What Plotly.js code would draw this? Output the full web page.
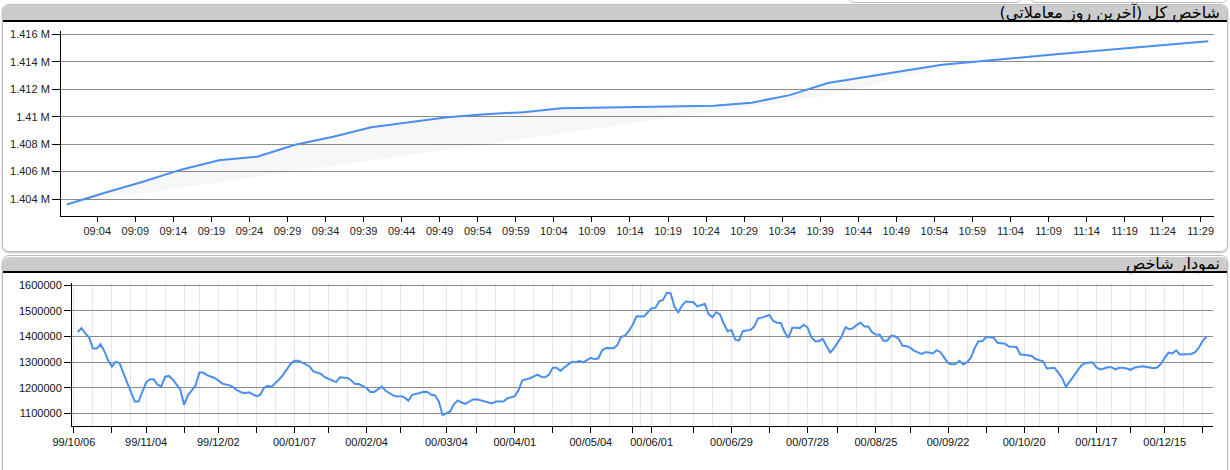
<!DOCTYPE html>
<html>
<head>
<meta charset="utf-8">
<script src="https://cdn.plot.ly/plotly-3.0.1.min.js"></script>
<style>
html,body{margin:0;padding:0;background:#fff;}
body{position:relative;width:1230px;height:470px;overflow:hidden;font-family:"DejaVu Sans",sans-serif;}
.panel{position:absolute;left:2px;width:1224px;border:1px solid #bdbdbd;border-radius:7px;background:#fff;box-shadow:0 1px 2px rgba(0,0,0,0.25);}
.head{position:absolute;left:0;right:0;top:0;background:#cccccc;border-bottom:2px solid #000;border-radius:6px 6px 0 0;}
.title{position:absolute;right:7px;white-space:nowrap;direction:rtl;color:#000;font-size:16px;line-height:16px;}
.chart{position:absolute;left:0;width:1230px;}
.tab{position:absolute;top:-20px;height:21px;border:1px solid #bdbdbd;border-radius:6px;background:#fff;}
</style>
</head>
<body>
<div class="tab" style="left:848px;width:172px;"></div>
<div class="tab" style="left:1030px;width:196px;"></div>

<div class="panel" style="top:4px;height:246px;">
  <div class="head" style="height:15px;"><div class="title" style="top:0px;">شاخص کل (آخرین روز معاملاتی)</div></div>
</div>
<div class="panel" style="top:255px;height:230px;">
  <div class="head" style="height:14px;top:1px;"><div class="title" style="top:-1px;">نمودار شاخص</div></div>
</div>

<div id="top" class="chart" style="top:0;height:252px;"></div>
<div id="bottom" class="chart" style="top:256px;height:214px;"></div>

<script>
// ---- Intraday (last trading day) ----
const sessionDate = '2022-03-16';
const intradayTimes = ['09:00','09:05','09:10','09:15','09:20','09:25','09:30','09:35','09:40','09:45',
  '09:50','09:55','10:00','10:05','10:10','10:15','10:20','10:25','10:30','10:35',
  '10:40','10:45','10:50','10:55','11:00','11:05','11:10','11:15','11:20','11:25','11:30'];
const intradayIndex = [1403600,1404460,1405260,1406140,1406830,1407080,1407960,1408540,1409230,1409600,
  1409960,1410180,1410330,1410620,1410660,1410730,1410770,1410800,1411020,1411570,
  1412450,1412890,1413350,1413780,1414030,1414300,1414540,1414780,1415020,1415260,1415490];
const shadeTimes = ['09:00','09:10','09:20','09:30','09:40','09:50','10:00','10:10','10:20','10:30','10:40','10:50','11:00'];
const shadeLow = [1403600,1404436,1405227,1406018,1406802,1407594,1408392,1409184,1409968,1410759,1411550,1412857,1414030];
const topTickValues = [1404000,1406000,1408000,1410000,1412000,1414000,1416000];
const topTickLabels = ['1.404 M','1.406 M','1.408 M','1.41 M','1.412 M','1.414 M','1.416 M'];

// ---- Index history (trading-day positions) ----
const tradingDays = [1,2,3,4,5,6,7,8,9,10,11,12,13,14,16,17,18,19,20,21,22,23,24,25,26,28,29,30,32,33,34,35,37,38,39,41,42,43,44,45,46,48,49,50,51,52,54,55,57,58,59,60,62,63,65,66,68,69,70,72,73,74,75,77,78,79,81,82,84,85,86,87,88,89,91,92,93,94,95,96,97,98,99,100,101,102,103,104,105,106,108,109,110,111,112,113,114,115,116,117,118,120,121,122,123,124,125,126,127,128,129,131,132,133,134,135,136,137,138,139,140,142,143,144,145,146,147,148,150,151,152,153,154,155,156,157,158,159,160,161,162,163,164,165,166,167,168,169,170,171,172,173,174,175,176,177,178,179,180,181,182,183,184,185,186,187,188,189,190,191,192,193,194,195,196,197,198,199,200,201,202,203,204,205,206,207,208,209,210,211,212,213,214,215,216,217,218,219,220,221,223,224,225,226,227,228,229,230,231,232,233,234,235,236,237,238,239,240,241,242,243,244,245,246,248,249,250,252,253,255,256,258,260,261,262,264,265,266,268,269,270,271,272,273,274,275,276,277,278,279,280,281,283,284,285,286,287,288,289,290,291,293,294,295,296,297,298];
const indexClose = [1418000,1433000,1412000,1396000,1353000,1353000,1370000,1343000,1307000,1283000,1301000,1296000,1258000,1218000,1146000,1146000,1183000,1221000,1233000,1233000,1212000,1205000,1243000,1246000,1232000,1192000,1133000,1170000,1208000,1259000,1259000,1249000,1238000,1229000,1216000,1209000,1201000,1189000,1182000,1178000,1182000,1167000,1172000,1199000,1207000,1204000,1232000,1249000,1293000,1305000,1305000,1299000,1283000,1264000,1254000,1241000,1228000,1222000,1241000,1238000,1228000,1214000,1214000,1199000,1183000,1183000,1204000,1188000,1170000,1166000,1167000,1162000,1149000,1172000,1179000,1184000,1183000,1172000,1170000,1146000,1093000,1101000,1107000,1136000,1150000,1142000,1137000,1146000,1154000,1155000,1146000,1140000,1138000,1146000,1145000,1146000,1158000,1162000,1167000,1191000,1229000,1237000,1243000,1251000,1242000,1241000,1251000,1278000,1278000,1266000,1279000,1301000,1300000,1304000,1299000,1309000,1317000,1311000,1315000,1347000,1355000,1354000,1367000,1399000,1403000,1422000,1445000,1479000,1478000,1495000,1511000,1512000,1538000,1543000,1571000,1570000,1517000,1495000,1521000,1537000,1534000,1534000,1518000,1522000,1528000,1488000,1475000,1495000,1486000,1450000,1421000,1426000,1388000,1384000,1421000,1424000,1426000,1439000,1471000,1474000,1480000,1484000,1461000,1454000,1453000,1417000,1395000,1434000,1434000,1433000,1446000,1436000,1397000,1382000,1382000,1391000,1364000,1338000,1355000,1378000,1400000,1437000,1429000,1433000,1446000,1454000,1439000,1439000,1417000,1408000,1407000,1384000,1384000,1404000,1401000,1391000,1364000,1363000,1357000,1345000,1332000,1339000,1338000,1334000,1347000,1339000,1318000,1296000,1291000,1293000,1305000,1291000,1300000,1317000,1355000,1382000,1382000,1397000,1397000,1395000,1376000,1375000,1372000,1361000,1359000,1330000,1329000,1324000,1312000,1303000,1275000,1278000,1238000,1203000,1225000,1264000,1286000,1296000,1299000,1280000,1271000,1275000,1280000,1280000,1272000,1278000,1278000,1275000,1270000,1278000,1280000,1284000,1279000,1276000,1279000,1293000,1317000,1337000,1334000,1346000,1330000,1330000,1332000,1339000,1357000,1383000,1399000];
const dateTickDays = [0,10,19,29,38,48,58,67,77,86,98,106,116,126,136,147,152,163,173,183,193,201,211,220,230,240,250,259,269,278,287,297];
const dateTickLabels = ['99/10/06','','99/11/04','','99/12/02','','00/01/07','','00/02/04','','00/03/04','','00/04/01','','00/05/04','','00/06/01','','00/06/29','','00/07/28','','00/08/25','','00/09/22','','00/10/20','','00/11/17','','00/12/15',''];
const weekGridDays = [5,15,24,33,43,53,62,72,81,92,102,111,121,131,141,149,157,168,178,188,197,206,215,225,235,245,254,264,273,282,292];
const bottomTickValues = [1100000,1200000,1300000,1400000,1500000,1600000];

const blue = '#4a8ef0';
const tickFont = {family: '"Liberation Sans", Arial, sans-serif', size: 11, color: '#222'};
const cfg = {staticPlot: true, displayModeBar: false};

Plotly.newPlot('top', [
  {x: shadeTimes.map(t => sessionDate + ' ' + t), y: shadeLow, type: 'scatter', mode: 'lines',
   line: {width: 0, color: 'rgba(0,0,0,0)'}, hoverinfo: 'skip', showlegend: false},
  {x: intradayTimes.map(t => sessionDate + ' ' + t), y: intradayIndex, type: 'scatter', mode: 'lines',
   fill: 'tonexty', fillcolor: 'rgba(0,0,0,0.03)',
   line: {color: blue, width: 2}, showlegend: false}
], {
  width: 1230, height: 252,
  margin: {l: 61, r: 16, t: 31, b: 36},
  paper_bgcolor: 'rgba(0,0,0,0)', plot_bgcolor: 'rgba(0,0,0,0)',
  font: tickFont,
  xaxis: {type: 'date', range: [sessionDate + ' 08:59:14', sessionDate + ' 11:30:45'],
    tickmode: 'linear', tick0: sessionDate + ' 09:04:00', dtick: 300000, tickformat: '%H:%M',
    showgrid: false, zeroline: false, showline: true, linecolor: '#000', linewidth: 1,
    ticks: 'outside', ticklen: 5, tickcolor: '#000', tickfont: tickFont},
  yaxis: {range: [1402766, 1416240], tickmode: 'array', tickvals: topTickValues, ticktext: topTickLabels,
    showgrid: true, gridcolor: '#8c8c8c', gridwidth: 1, zeroline: false,
    showline: true, linecolor: '#000', linewidth: 1,
    ticks: 'outside', ticklen: 8, tickcolor: '#000', tickfont: tickFont}
}, cfg);

Plotly.newPlot('bottom', [
  {x: tradingDays, y: indexClose, type: 'scatter', mode: 'lines',
   line: {color: blue, width: 2}, showlegend: false}
], {
  width: 1230, height: 214,
  margin: {l: 72, r: 17, t: 27, b: 44},
  paper_bgcolor: 'rgba(0,0,0,0)', plot_bgcolor: 'rgba(0,0,0,0)',
  font: tickFont,
  xaxis: {range: [-0.5, 299.7], tickmode: 'array', tickvals: dateTickDays, ticktext: dateTickLabels,
    showgrid: true, gridcolor: '#e6e6e6', gridwidth: 1, zeroline: false,
    minor: {tickmode: 'array', tickvals: weekGridDays, showgrid: true, gridcolor: '#e6e6e6', gridwidth: 1, ticks: ''},
    showline: true, linecolor: '#000', linewidth: 1,
    ticks: 'outside', ticklen: 6, tickcolor: '#000', tickfont: {family: tickFont.family, size: 11, color: '#111'}},
  yaxis: {range: [1050234, 1609400], tickmode: 'array', tickvals: bottomTickValues, tickformat: 'd',
    showgrid: true, gridcolor: '#8c8c8c', gridwidth: 1, zeroline: false,
    showline: true, linecolor: '#000', linewidth: 1,
    ticks: 'outside', ticklen: 7, tickcolor: '#000', tickfont: {family: tickFont.family, size: 11, color: '#111'}}
}, cfg);
</script>
</body>
</html>
